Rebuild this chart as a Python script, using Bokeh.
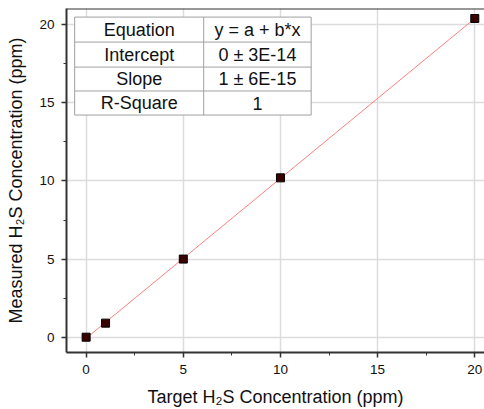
import numpy as np
from bokeh.plotting import figure
from bokeh.models import SingleIntervalTicker, Range1d, Span
from bokeh.core.properties import value
from bokeh.embed import file_html
from bokeh.resources import INLINE

# data
target = [0, 1, 5, 10, 20]
measured = [0, 0.9, 5.0, 10.2, 20.4]
table_labels = ["Equation", "Intercept", "Slope", "R-Square"]
table_values = ["y = a + b*x", "0 ± 3E-14", "1 ± 6E-15", "1"]

FONT = "Liberation Sans"

p = figure(width=484, height=409, output_backend="svg", toolbar_location=None,
           x_range=Range1d(-1.01, 20.5), y_range=Range1d(-0.98, 21.04),
           min_border_left=66, min_border_right=0, min_border_top=8, min_border_bottom=56)

p.background_fill_color = "white"
p.border_fill_color = "white"
p.outline_line_color = None

for ax in (p.xaxis[0], p.yaxis[0]):
    ax.ticker = SingleIntervalTicker(interval=5, num_minor_ticks=2)
    ax.axis_line_color = "#333333"
    ax.axis_line_width = 2
    ax.major_tick_in = 0
    ax.major_tick_out = 5
    ax.minor_tick_in = 0
    ax.minor_tick_out = 3
    ax.major_tick_line_color = "#333333"
    ax.minor_tick_line_color = "#333333"
    ax.major_tick_line_width = 1.5
    ax.major_label_text_font = FONT
    ax.major_label_text_font_size = "13.5px"
    ax.major_label_text_color = "#111111"
    ax.axis_label_text_font = FONT
    ax.axis_label_text_font_size = "18px"
    ax.axis_label_text_font_style = "normal"
    ax.axis_label_text_color = "#111111"
    ax.major_label_standoff = 7

p.xaxis.axis_label = "Target H₂S Concentration (ppm)"
p.yaxis.axis_label = "Measured H₂S Concentration (ppm)"
p.xaxis.axis_label_standoff = 10
p.yaxis.axis_label_standoff = 10

for g in (p.xgrid[0], p.ygrid[0]):
    g.grid_line_color = "#dcdcdc"
    g.grid_line_width = 1.5

# top frame line
p.add_layout(Span(location=p.y_range.end, dimension="width",
                  line_color="#333333", line_width=2))

# fit line
slope, intercept = np.polyfit(target, measured, 1)
fx = np.array([min(target), max(target)])
p.line(fx, intercept + slope * fx, line_color="#ff7f7f", line_width=1)

# points
p.scatter(target, measured, marker="square", size=8, fill_color="#3a0000",
          line_color="black", line_width=1)

# table (data coordinates)
tx0, tx1, tx2 = -0.59, 6.05, 11.58
rows = [20.49, 18.89, 17.29, 15.76, 14.22]
p.quad(left=[tx0], right=[tx2], top=[rows[0]], bottom=[rows[-1]],
       fill_color="white", line_color="#a0a0a0", line_width=1)
p.segment(x0=[tx0] * 3, x1=[tx2] * 3, y0=rows[1:4], y1=rows[1:4],
          line_color="#a0a0a0", line_width=1)
p.segment(x0=[tx1], x1=[tx1], y0=[rows[0]], y1=[rows[-1]],
          line_color="#a0a0a0", line_width=1)
ymid = [(rows[i] + rows[i + 1]) / 2 for i in range(4)]
p.text(x=[(tx0 + tx1) / 2] * 4, y=ymid, text=table_labels,
       text_font=value(FONT), text_font_size="18px", text_color="#111111",
       text_align="center", text_baseline="middle")
p.text(x=[(tx1 + tx2) / 2] * 4, y=ymid, text=table_values,
       text_font=value(FONT), text_font_size="18px", text_color="#111111",
       text_align="center", text_baseline="middle")

open("out.html", "w").write(file_html(p, INLINE))
